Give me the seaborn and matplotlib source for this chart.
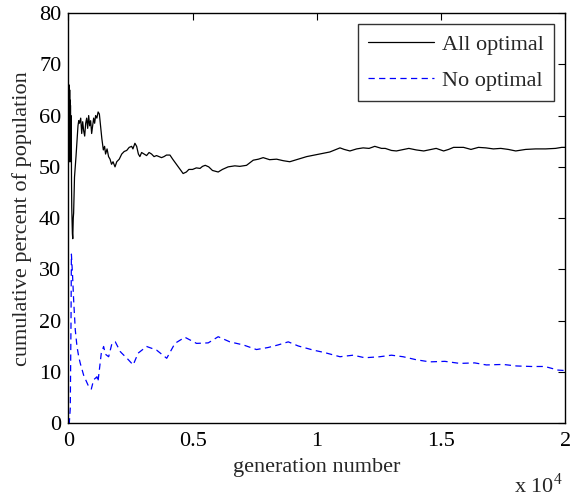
import numpy as np
import pandas as pd
import matplotlib
matplotlib.use("Agg")
import matplotlib.pyplot as plt
import seaborn as sns

# Cumulative share of the population, "All optimal" run
all_gen = [0, 8, 16, 24, 32, 40, 48, 56, 64, 72,
           80, 88, 96, 104, 112, 120, 130, 140, 150, 165,
           180, 190, 200, 215, 230, 250, 280, 310, 350, 390,
           420,
           450, 500, 540, 580, 620, 660, 700, 740, 780, 820,
           860, 900, 940, 980, 1020, 1060, 1100, 1150, 1200, 1250,
           1300, 1350, 1410, 1460, 1500, 1560, 1620, 1680, 1740, 1800,
           1880, 1950, 2050, 2150, 2250, 2350, 2450, 2550, 2600, 2680,
           2750, 2820, 2880, 2950, 3050, 3150, 3250, 3350, 3450, 3550,
           3650, 3750, 3850, 3950, 4090, 4200, 4350, 4500, 4620, 4750,
           4850, 5000, 5150, 5300, 5400, 5510, 5650, 5800, 6030, 6200,
           6430, 6700, 6900, 7170, 7440, 7650, 7840, 8100, 8380, 8650,
           8910, 9250, 9590, 10000, 10520, 10930, 11100, 11330, 11600, 11860,
           12100, 12330, 12600, 12750, 13000, 13200, 13500, 13700, 14000, 14300,
           14600, 14800, 15100, 15300, 15500, 15900, 16200, 16500, 16800, 17100,
           17400, 17700, 18000, 18400, 18800, 19200, 19600, 19850, 20000]
all_pct = [50, 62, 53, 66, 52, 64, 51, 65, 54, 63,
           51, 62, 55, 60, 52, 58, 47, 42, 40, 37,
           36, 38, 40, 41, 44, 48, 50, 52, 55, 58,
           59,
           58.5, 59.5, 56.5, 58.8, 57, 56, 58.5, 59.5, 57.5, 60,
           58, 59, 56.5, 58, 59.5, 58.5, 60, 59.5, 60.7, 60.3,
           58, 55.5, 53.3, 54, 52.5, 53.5, 52, 51.5, 50.5, 51,
           50, 51, 51.5, 52.5, 53, 53.2, 53.8, 54, 53.5, 54.6,
           54, 52.5, 52, 52.8, 52.5, 52.2, 52.8, 52.5, 52, 52.2,
           52, 51.8, 52, 52.3, 52.3, 51.5, 50.5, 49.5, 48.7, 49,
           49.5, 49.5, 49.8, 49.7, 50.1, 50.3, 50, 49.3, 49.0, 49.5,
           50.0, 50.2, 50.1, 50.3, 51.3, 51.5, 51.8, 51.4, 51.5, 51.2,
           51.0, 51.5, 52.0, 52.4, 52.9, 53.7, 53.4, 53.1, 53.5, 53.7,
           53.6, 54.0, 53.6, 53.6, 53.2, 53.1, 53.4, 53.6, 53.3, 53.1,
           53.4, 53.6, 53.1, 53.4, 53.8, 53.8, 53.4, 53.8, 53.7, 53.5,
           53.6, 53.4, 53.1, 53.4, 53.5, 53.5, 53.6, 53.8, 53.8]

# Cumulative share of the population, "No optimal" run
no_gen = [0, 40, 80, 110, 125, 170, 216, 282, 350, 420,
          483, 618, 819, 926, 1020, 1154, 1194, 1328, 1422, 1490,
          1624, 1757, 1891, 2092, 2150, 2400, 2610, 2810, 3150, 3550,
          3960, 4290, 4690, 5160, 5630, 6030, 6500, 7040, 7570, 8040,
          8440, 8850, 9250, 9850, 10320, 10930, 11460, 11930, 12530, 13000,
          13470, 14010, 14540, 15150, 15750, 16350, 16820, 17490, 18030, 18630,
          19170, 19700, 20000]
no_pct = [0, 0, 3, 20, 33, 29, 24, 18.2, 15, 13,
          11.7, 9.4, 7.2, 6.7, 8.5, 9.1, 8.1, 13.7, 15, 13.5,
          13.0, 15.6, 15.9, 14.0, 13.7, 12.5, 11.4, 13.7, 15, 14.3,
          12.7, 15.6, 16.8, 15.6, 15.7, 16.9, 15.9, 15.3, 14.4, 14.8,
          15.3, 15.9, 15.1, 14.3, 13.8, 13.0, 13.3, 12.8, 13.0, 13.3,
          13.0, 12.4, 12.0, 12.1, 11.7, 11.8, 11.4, 11.5, 11.2, 11.1,
          11.1, 10.4, 10.3]

x_ticks = [0, 5000, 10000, 15000, 20000]
x_tick_labels = ["0", "0.5", "1", "1.5", "2"]
y_ticks = [0, 10, 20, 30, 40, 50, 60, 70, 80]

FS = 16

sns.set_theme(style="white")
plt.rcParams["font.family"] = ["Liberation Serif", "DejaVu Serif"]
plt.rcParams["mathtext.fontset"] = "custom"
plt.rcParams["mathtext.rm"] = "Liberation Serif"

fig = plt.figure(figsize=(5.70, 4.97), dpi=100)
ax = fig.add_axes([0.1198, 0.148, 0.8722, 0.826])

df_all = pd.DataFrame({"gen": all_gen, "pct": all_pct})
df_no = pd.DataFrame({"gen": no_gen, "pct": no_pct})

sns.lineplot(data=df_all, x="gen", y="pct", ax=ax, color="black",
             linewidth=0.9, label="All optimal")
sns.lineplot(data=df_no, x="gen", y="pct", ax=ax, color="#0000ff",
             linewidth=0.9, label="No optimal")
ax.lines[1].set_dashes((5, 3.5))

ax.set_xlim(0, 20000)
ax.set_ylim(0, 80)
ax.set_xticks(x_ticks)
ax.set_xticklabels(x_tick_labels)
ax.set_yticks(y_ticks)
ax.tick_params(direction="in", length=5, width=0.8, colors="black",
               labelsize=FS, top=True, right=True, pad=5)
ax.tick_params(axis="x", pad=6)
for sp in ax.spines.values():
    sp.set_visible(True)
    sp.set_color("black")
    sp.set_linewidth(1.0)

ax.set_xlabel("generation number", fontsize=FS, labelpad=5)
ax.set_ylabel("cumulative percent of population", fontsize=FS, labelpad=5)

fig.text(0.902, 0.008, r"x 10$^{\mathrm{4}}$", fontsize=FS, ha="left",
         va="baseline")

leg = ax.legend(loc="upper right", bbox_to_anchor=(0.977, 0.973),
                frameon=True, fancybox=False, shadow=False, fontsize=FS,
                handlelength=3.0, handletextpad=0.35, labelspacing=0.7,
                borderpad=0.45, borderaxespad=0)
leg.get_frame().set_edgecolor("black")
leg.get_frame().set_linewidth(1.0)

fig.savefig("out.png", dpi=100)
